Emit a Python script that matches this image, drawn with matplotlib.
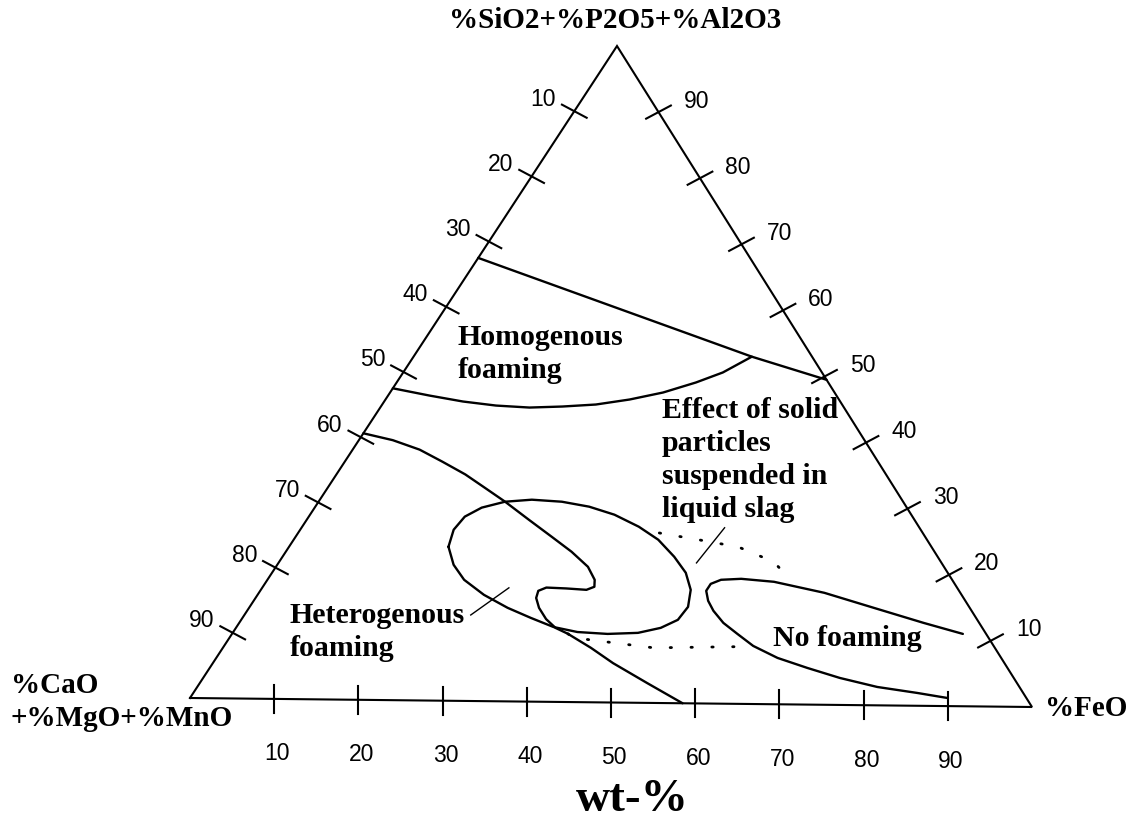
import numpy as np
import matplotlib.pyplot as plt

# compositions in wt-%, given as FeO and SiO2+P2O5+Al2O3; CaO+MgO+MnO is the balance
ticks = [10, 20, 30, 40, 50, 60, 70, 80, 90]

# straight boundary across the top of the homogeneous field
upper_feo = [0.0, 39.9, 50.5]
upper_sio2 = [67.5, 52.9, 49.5]

# lower boundary of the homogeneous foaming field
homog_feo = [0.0, 4.9, 9.3, 13.5, 17.6, 21.4, 25.2, 28.8, 32.2, 35.3, 37.7, 39.9]
homog_sio2 = [47.5, 46.45, 45.6, 45.04, 44.79, 45.0, 45.36, 46.18, 47.3, 48.88, 50.45, 52.9]

# boundary of the heterogeneous foaming field (with the hook)
hetero_feo = [0.0, 4.0, 7.9, 11.5, 15.2, 18.5, 22.0, 26.2, 30.2, 33.7, 36.8,
              38.6, 39.1, 38.4, 35.9, 33.5, 32.8, 33.1, 34.2, 35.9, 37.7,
              39.6, 43.4, 47.2, 52.8, 58.5]
hetero_sio2 = [40.6, 39.6, 38.2, 36.41, 34.5, 32.52, 30.41, 27.7, 25.15, 22.9, 20.63,
               18.66, 17.6, 17.12, 17.3, 17.4, 16.89, 15.8, 14.3, 12.6, 11.27,
               10.4, 8.3, 6.0, 3.0, 0.0]

# closed loop in the middle of the diagram
loop_feo = [18.8, 18.1, 18.4, 19.7, 22.0, 25.0, 28.7, 32.3, 35.9, 39.7, 43.0,
            46.2, 48.8, 50.7, 51.7, 51.5, 50.1, 47.8, 44.3, 40.6, 37.4, 34.0,
            30.5, 26.7, 23.2, 20.8, 18.8]
loop_sio2 = [23.46, 26.06, 28.07, 29.47, 30.41, 30.76, 30.5, 29.79, 28.61, 26.82, 24.87,
             22.3, 19.88, 17.29, 14.69, 12.7, 11.45, 10.65, 10.44, 10.68, 11.4, 12.76,
             14.25, 16.19, 18.45, 20.72, 23.46]

# no foaming field
nofoam_feo = [86.2, 80.7, 73.7, 66.7, 59.9, 55.8, 53.5, 52.6, 52.6, 53.6, 55.0,
              57.1, 59.6, 62.4, 66.2, 70.5, 75.1, 80.2, 85.4, 89.3]
nofoam_sio2 = [11.02, 12.64, 14.84, 17.05, 18.65, 19.05, 18.87, 18.23, 17.17, 15.65, 14.13,
               12.31, 10.66, 8.85, 7.06, 5.58, 4.11, 2.8, 1.95, 1.24]

# dotted limits of the solid particle region
dot_up_feo = [42.6, 47.9, 53.0, 58.3, 61.2]
dot_up_sio2 = [25.9, 24.9, 23.9, 21.7, 19.4]
dot_low_feo = [39.6, 40.6, 50.8, 60.4]
dot_low_sio2 = [10.4, 9.8, 8.4, 8.7]

# leader lines for the labels
lead_solid_feo = [49.3, 49.9]
lead_solid_sio2 = [21.4, 26.8]
lead_het_feo = [26.7, 29.1]
lead_het_sio2 = [13.1, 17.3]

W, H = 1136, 819
# corners of the diagram on the canvas (pixels, y down)
corner_cao = np.array([190.0, 698.0])
corner_feo = np.array([1032.0, 707.0])
corner_sio2 = np.array([617.0, 46.0])


def tern(feo, sio2):
    feo = np.asarray(feo, dtype=float)[..., None] / 100
    sio2 = np.asarray(sio2, dtype=float)[..., None] / 100
    p = corner_cao + feo * (corner_feo - corner_cao) + sio2 * (corner_sio2 - corner_cao)
    return p[..., 0], p[..., 1]


fig = plt.figure(figsize=(W / 100, H / 100), dpi=100)
ax = fig.add_axes([0, 0, 1, 1])
ax.set_xlim(0, W)
ax.set_ylim(H, 0)
ax.axis('off')

lw_frame = 1.5
lw_curve = 1.7
serif = 'Liberation Serif'
sans = 'Liberation Sans'

# triangle
tx, ty = tern([0, 100, 0, 0], [0, 0, 100, 0])
ax.plot(tx, ty, color='black', lw=lw_frame, solid_joinstyle='miter')

half = 14
ca, sa = np.cos(np.deg2rad(28)), np.sin(np.deg2rad(28))
tick_fs = 16.5
for t in ticks:
    # bottom edge: FeO
    x, y = tern(t, 0)
    x, y = float(x), float(y)
    ax.plot([x, x], [y - half, y + half], color='black', lw=lw_frame)
    ax.text(x + 3, y + 55, str(t), ha='center', va='center', fontsize=tick_fs, family=sans)
    # left edge: CaO+MgO+MnO
    x, y = tern(0, 100 - t)
    x, y = float(x), float(y)
    ax.plot([x - half * ca, x + half * ca], [y - half * sa, y + half * sa],
            color='black', lw=lw_frame)
    ax.text(x - 31, y - 12, str(t), ha='center', va='center', fontsize=tick_fs, family=sans)
    # right edge: SiO2+P2O5+Al2O3
    x, y = tern(100 - t, t)
    x, y = float(x), float(y)
    ax.plot([x - half * ca, x + half * ca], [y + half * sa, y - half * sa],
            color='black', lw=lw_frame)
    ax.text(x + 38, y - 11, str(t), ha='center', va='center', fontsize=tick_fs, family=sans)

# field boundaries
for feo, sio2 in [(upper_feo, upper_sio2), (homog_feo, homog_sio2),
                  (hetero_feo, hetero_sio2), (loop_feo, loop_sio2),
                  (nofoam_feo, nofoam_sio2)]:
    x, y = tern(feo, sio2)
    ax.plot(x, y, color='black', lw=lw_curve, solid_joinstyle='round',
            solid_capstyle='round')

for feo, sio2 in [(dot_up_feo, dot_up_sio2), (dot_low_feo, dot_low_sio2)]:
    x, y = tern(feo, sio2)
    ax.plot(x, y, color='black', lw=2.0, linestyle=(0, (0.5, 7.0)),
            dash_capstyle='round')

for feo, sio2 in [(lead_solid_feo, lead_solid_sio2), (lead_het_feo, lead_het_sio2)]:
    x, y = tern(feo, sio2)
    ax.plot(x, y, color='black', lw=1.0)


def label(px, py, s, size=21.5, **kw):
    ax.text(px, py, s, family=serif, fontweight='bold', color='black',
            fontsize=size, linespacing=1.29, **kw)


label(615, 20, '%SiO2+%P2O5+%Al2O3', size=21, ha='center', va='center')
label(11, 702, '%CaO\n+%MgO+%MnO', size=21, ha='left', va='center')
label(1045, 708, '%FeO', size=21, ha='left', va='center')
label(632, 800, 'wt-%', size=34, ha='center', va='center')

label(458, 354, 'Homogenous\nfoaming', ha='left', va='center')
label(662, 460, 'Effect of solid\nparticles\nsuspended in\nliquid slag',
      ha='left', va='center')
label(290, 632, 'Heterogenous\nfoaming', ha='left', va='center')
label(773, 638, 'No foaming', ha='left', va='center')

fig.savefig('out.png', dpi=100)
